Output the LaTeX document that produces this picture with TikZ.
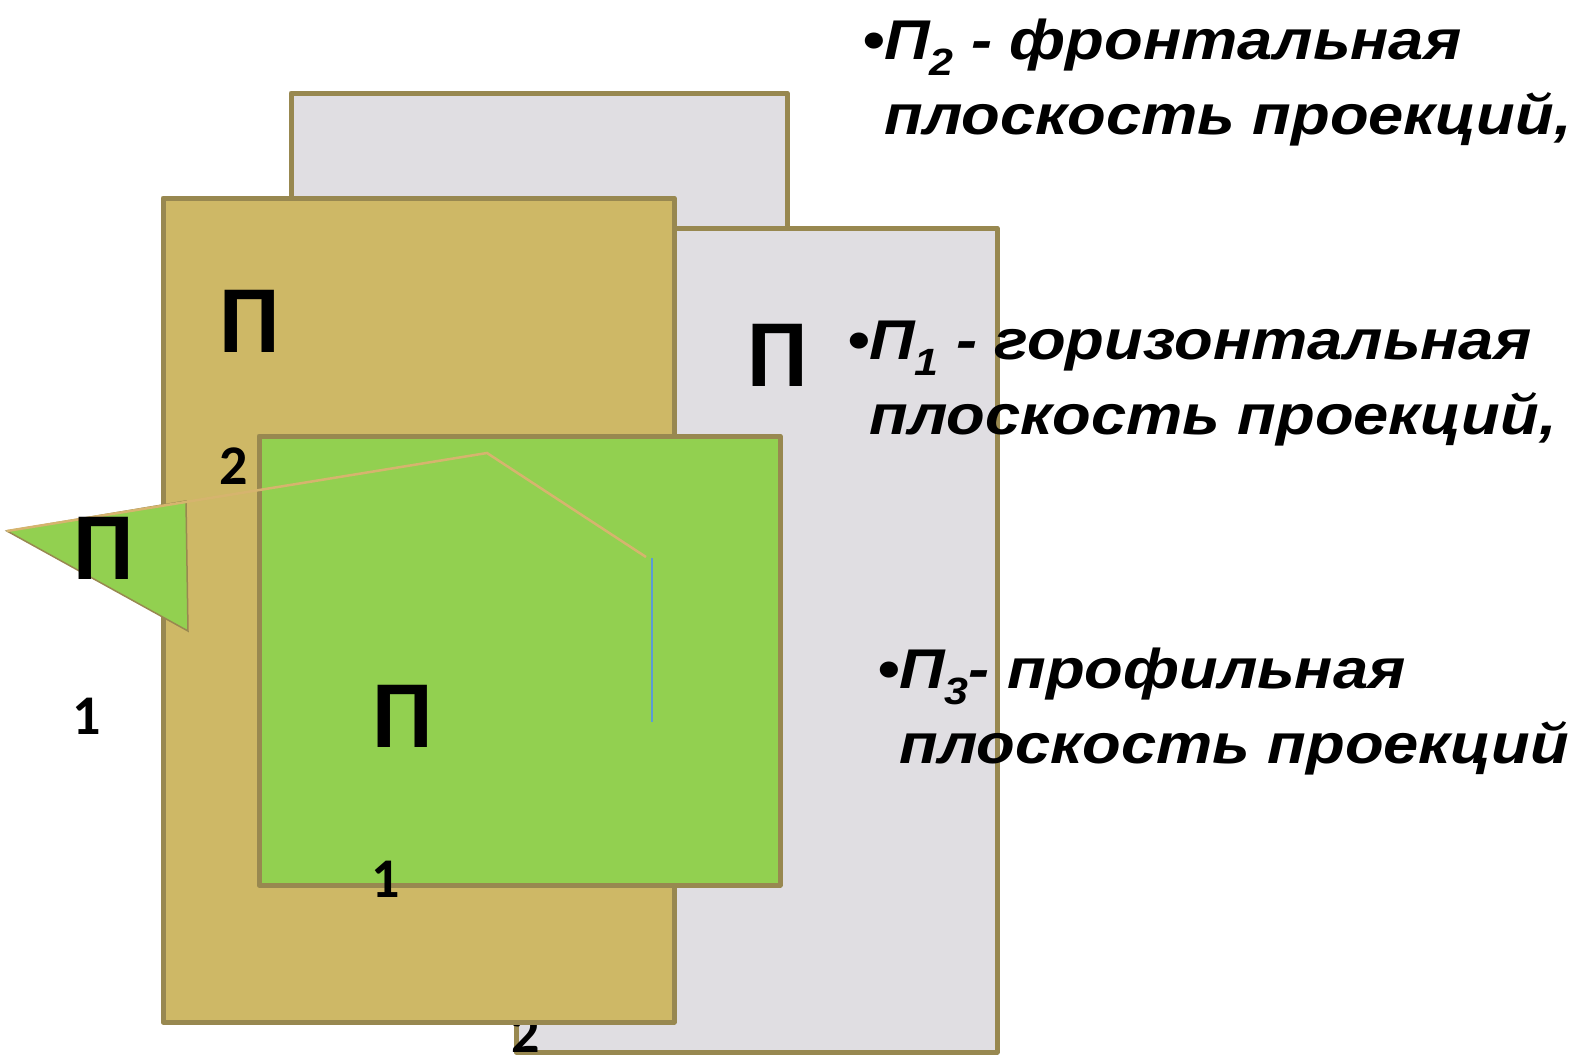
\documentclass[tikz,border=0pt]{standalone}
\usepackage{fontspec}
\setmainfont{Liberation Sans}
\newfontfamily\capfont[FakeStretch=1.13]{Liberation Sans}
\newfontfamily\lblfont{Carlito}
\usetikzlibrary{positioning,calc}
\definecolor{planeEdge}{RGB}{152,136,80}
\definecolor{greyPlane}{RGB}{224,222,226}
\definecolor{khakiPlane}{RGB}{206,184,102}
\definecolor{greenPlane}{RGB}{146,208,80}
\definecolor{traceLine}{RGB}{214,180,110}
\definecolor{axisBlue}{RGB}{91,155,213}
\newcommand{\sbs}[1]{\raisebox{-16pt}{\fontsize{38}{38}\selectfont #1}}

\begin{document}
\begin{tikzpicture}[x=1pt,y=-1pt,
plane/.style={
draw=planeEdge,
line width=5pt,
line join=round,
},
bigP/.style={font=\lblfont\bfseries\fontsize{96}{96}\selectfont,inner sep=0pt},
idx/.style={font=\lblfont\bfseries\fontsize{56}{56}\selectfont,inner sep=0pt},
caption/.style={font=\capfont\bfseries\itshape\fontsize{56}{75}\selectfont,anchor=base west,inner sep=0pt,align=left}
]
\useasboundingbox (0,0) rectangle (1581,1055);

% planes, back to front
\draw[plane,fill=greyPlane] (291,93) rectangle (787,320);
\draw[plane,fill=greyPlane] (516,228) rectangle (997,1052);
\node[idx] (idxB) at (526,1034) {2};
\draw[plane,fill=khakiPlane] (163,198) rectangle (674,1022);
\draw[plane,fill=greenPlane] (259,436) rectangle (780,885);

% profile plane seen edge-on
\coordinate (tip) at (7,531);
\coordinate (triTop) at (186,501);
\coordinate (triBot) at (188,631);
\draw[draw=planeEdge,line width=1.5pt,fill=greenPlane] (tip) -- (triTop) -- (triBot) -- cycle;

% traces
\coordinate (bend) at (487,453);
\coordinate (traceEnd) at (646,557);
\draw[traceLine,line width=2.5pt] (tip) -- (bend) -- (traceEnd);
\coordinate (axTop) at (652,558);
\coordinate (axBot) at (652,722);
\draw[axisBlue,line width=2pt] (axTop) -- (axBot);

% plane letters
\node[bigP] (pFront) at (250,321) {П};
\node[bigP] (pRight) at (778,355) {П};
\node[bigP] (pProf)  at (104,548) {П};
\node[bigP] (pHoriz) at (403,716) {П};
\node[idx] (idxFront) at (234,466) {2};
\node[idx] (idxProf)  at (87,716) {1};
\node[idx] (idxHoriz) at (386,879) {1};

% captions (base = second line)
\node[caption] (capFront) at (862,134) {•П\sbs{2} - фронтальная\\\hphantom{•}плоскость проекций,};
\node[caption] (capHoriz) at (847,434) {•П\sbs{1} - горизонтальная\\\hphantom{•}плоскость проекций,};
\node[caption] (capProf)  at (877,763) {•П\sbs{3}- профильная\\\hphantom{•}плоскость проекций};
\end{tikzpicture}
\end{document}
